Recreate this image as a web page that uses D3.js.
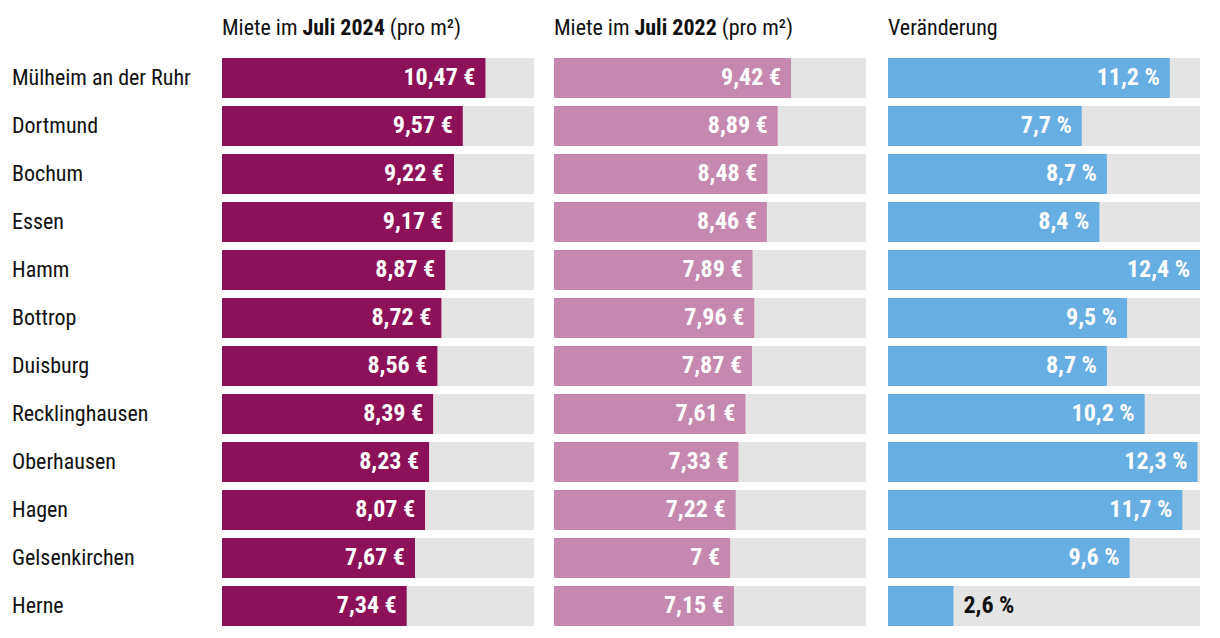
<!DOCTYPE html>
<html><head><meta charset="utf-8">
<script src="https://cdn.jsdelivr.net/npm/d3@7"></script>
<style>
body{margin:0;background:#fff;}
text{font-family:"Liberation Sans Narrow","Roboto Condensed","Liberation Sans",sans-serif;}
</style></head>
<body><svg id="c" width="1220" height="638"></svg>
<script>
const cities = ["Mülheim an der Ruhr","Dortmund","Bochum","Essen","Hamm","Bottrop","Duisburg","Recklinghausen","Oberhausen","Hagen","Gelsenkirchen","Herne"];
const rent2024 = [10.47,9.57,9.22,9.17,8.87,8.72,8.56,8.39,8.23,8.07,7.67,7.34];
const rent2022 = [9.42,8.89,8.48,8.46,7.89,7.96,7.87,7.61,7.33,7.22,7,7.15];
const change = [11.2,7.7,8.7,8.4,12.4,9.5,8.7,10.2,12.3,11.7,9.6,2.6];

const svg = d3.select("#c");
const fs = 22, vfs = 24;
const yb = d3.scaleBand().domain(cities).range([54,630]).padding(0);

const fmtNum = v => (Number.isInteger(v) ? String(v) : v.toFixed(2).replace(/0$/,"")).replace(".",",");

svg.append("g").selectAll("text").data(cities).join("text")
  .attr("x",12).attr("y",d=>yb(d)+4+27)
  .attr("font-size",fs).attr("fill","#111").text(d=>d);

const panels = [
  {x0:222, vals:rent2024, color:"#8c1159", title:["Miete im ","Juli 2024"," (pro m²)"], fmt:v=>fmtNum(v)+" €"},
  {x0:554, vals:rent2022, color:"#c688ae", title:["Miete im ","Juli 2022"," (pro m²)"], fmt:v=>fmtNum(v)+" €"},
  {x0:888, vals:change, color:"#67aee2", title:["Veränderung"], fmt:v=>v.toFixed(1).replace(".",",")+" %"}
];

panels.forEach(p=>{
  const x = d3.scaleLinear().domain([0,12.4]).range([p.x0,p.x0+312]);
  const g = svg.append("g");
  const t = g.append("text").attr("x",p.x0).attr("y",35).attr("font-size",fs).attr("fill","#111");
  p.title.forEach((s,i)=>t.append("tspan").attr("font-weight",i===1?"bold":"normal").text(s));
  const rows = g.selectAll("g.r").data(cities).join("g").attr("class","r");
  rows.append("rect").attr("x",x(0)).attr("y",d=>yb(d)+4).attr("width",x(12.4)-x(0)).attr("height",40).attr("fill","#e4e4e4");
  rows.append("rect").attr("x",x(0)).attr("y",d=>yb(d)+4).attr("width",(d,i)=>x(p.vals[i])-x(0)).attr("height",40).attr("fill",p.color);
  rows.append("text")
    .attr("y",d=>yb(d)+4+27)
    .attr("font-size",vfs).attr("font-weight","bold")
    .each(function(d,i){
      const v=p.vals[i], w=x(v)-x(0);
      const inside = w>80;
      d3.select(this).attr("x", inside? x(v)-10 : x(v)+10)
        .attr("text-anchor", inside?"end":"start")
        .attr("fill", inside?"#fff":"#111")
        .text(p.fmt(v));
    });
});
</script></body></html>
